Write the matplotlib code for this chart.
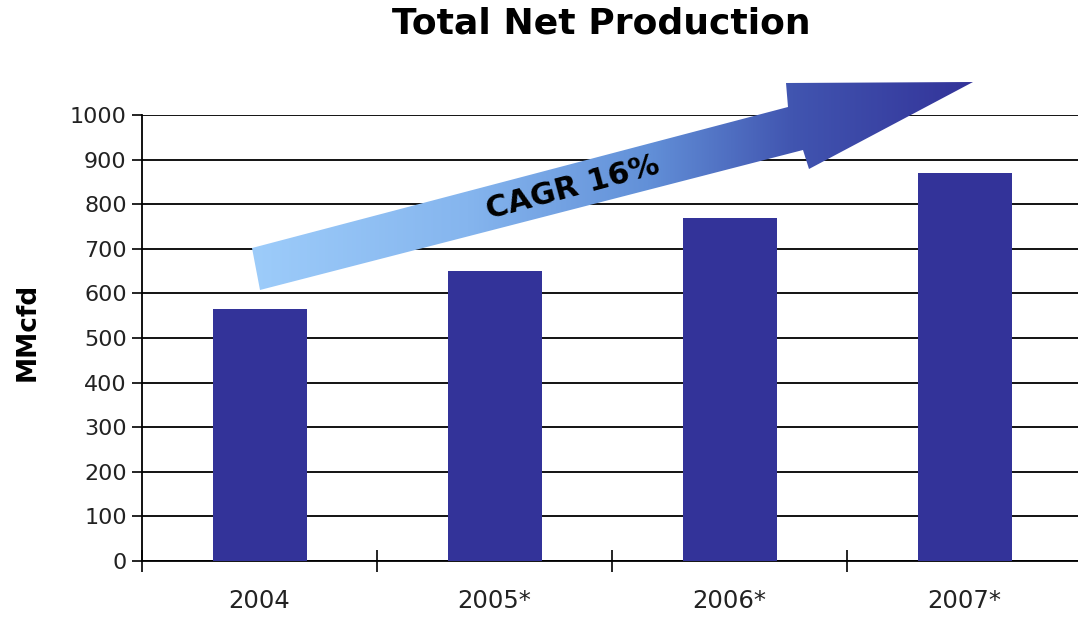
import matplotlib
matplotlib.use("Agg")
import matplotlib.pyplot as plt
import numpy as np
from matplotlib.patches import Polygon
from matplotlib.colors import LinearSegmentedColormap

plt.rcParams['font.family'] = ['DejaVu Sans']

# production by year (MMcfd)
years = ["2004", "2005*", "2006*", "2007*"]
production = [565, 650, 770, 870]
yticks = list(range(0, 1001, 100))

W, H = 1078, 619
fig = plt.figure(figsize=(W / 100, H / 100), dpi=100)
ax = fig.add_axes([142 / W, 1 - 561 / H, 940 / W, 446 / H])

x = np.arange(len(years))
ax.bar(x, production, width=0.4, color="#333399", zorder=3)

ax.set_xlim(-0.5, len(years) - 0.5)
ax.set_ylim(0, 1000)
ax.set_yticks(yticks)
ax.set_yticklabels([str(v) for v in yticks], fontsize=16, color="#222222")
ax.tick_params(axis="y", direction="out", length=7, width=1.2, pad=4)

# labels centred on bars, tick marks on category boundaries
ax.set_xticks(x)
ax.set_xticklabels(years, fontsize=17.5, color="#222222")
ax.tick_params(axis="x", which="major", length=0, pad=20)
ax.set_xticks(np.arange(-0.5, len(years)), minor=True)
ax.tick_params(axis="x", which="minor", direction="inout", length=16, width=1.2)

ax.grid(axis="y", color="black", linewidth=1.3, zorder=0)
ax.set_axisbelow(True)
for s in ["top", "right"]:
    ax.spines[s].set_visible(False)
for s in ["left", "bottom"]:
    ax.spines[s].set_linewidth(1.3)

fig.text(601 / W, 1 - 24 / H, "Total Net Production", ha="center", va="center",
         fontsize=26, fontweight="bold")
fig.text(28 / W, 1 - 332 / H, "MMcfd", ha="center", va="center", rotation=90,
         fontsize=19, fontweight="bold")

# growth arrow drawn in pixel space on an overlay
ov = fig.add_axes([0, 0, 1, 1])
ov.set_xlim(0, W)
ov.set_ylim(H, 0)
ov.axis("off")
ov.patch.set_alpha(0)

arrow_pts = [(252, 248), (788, 107), (786, 83), (973, 82), (809, 169), (803, 150), (260, 290)]
arrow = Polygon(arrow_pts, closed=True, facecolor="none", edgecolor="none")
ov.add_patch(arrow)

cmap = LinearSegmentedColormap.from_list(
    "cagr", [(0, "#9DCCFA"), (0.3, "#85B5EE"), (0.55, "#6290D8"),
             (0.75, "#4155B0"), (1, "#333399")])
grad = np.linspace(0, 1, 256).reshape(1, -1)
im = ov.imshow(grad, cmap=cmap, aspect="auto", extent=[252, 973, 290, 82],
               interpolation="bilinear")
im.set_clip_path(arrow)

ov.text(573, 188, "CAGR 16%", ha="center", va="center", rotation=15,
        fontsize=22, fontweight="bold", color="black")

fig.savefig("out.png", dpi=100)
